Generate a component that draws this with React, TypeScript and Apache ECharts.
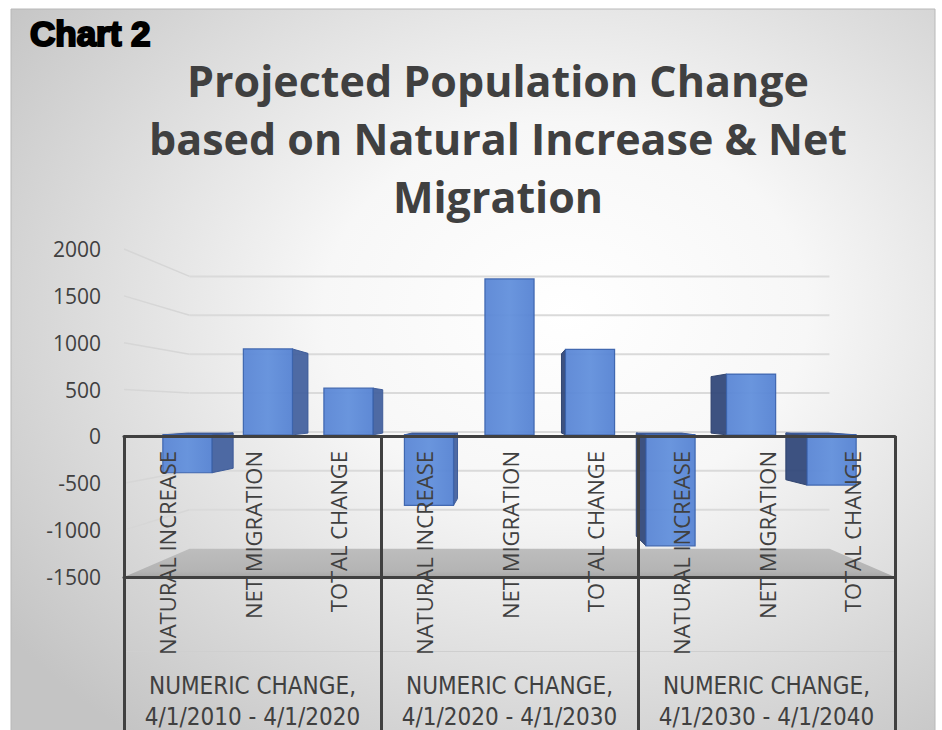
import React, { useEffect, useRef } from "react";
import * as echarts from "echarts";

// ---- data ----
const subCategories = ["NATURAL INCREASE", "NET MIGRATION", "TOTAL CHANGE"];
const groupPrefix = "NUMERIC CHANGE,";
const periods = ["4/1/2010 - 4/1/2020", "4/1/2020 - 4/1/2030", "4/1/2030 - 4/1/2040"];
const naturalIncrease = [-430, -800, -1260];
const netMigration = [975, 1770, 690];
const totalChange = [530, 970, -570];
const yTicks = [-1500, -1000, -500, 0, 500, 1000, 1500, 2000];

const Y_MIN = -1500;
const Y_MAX = 2000;
const Y_STEP = 500;
const HORIZON_VALUE = 280; // eye level of the 3D view (value units)
const WALL_DEPTH = 0.17;
const BAR_FRONT = 0.06;
const BAR_BACK = 0.127;
const BAR_RATIO = 0.61;

const categories: string[] = [];
periods.forEach(() => subCategories.forEach((s) => categories.push(s)));
const barData: number[][] = [];
periods.forEach((_, g) => {
  [naturalIncrease[g], netMigration[g], totalChange[g]].forEach((v, k) => {
    barData.push([g * subCategories.length + k, v]);
  });
});
const groupLabels = periods.map((p) => groupPrefix + "\n" + p);

const TEXT = "#404040";

export default function App() {
  const ref = useRef<HTMLDivElement>(null);
  useEffect(() => {
    if (!ref.current) return;
    const chart = echarts.init(ref.current, undefined, { renderer: "svg" });

    const persp = (params: any, api: any) => {
      const cs = params.coordSys;
      const vx = cs.x + cs.width / 2;
      const vy = api.coord([0, HORIZON_VALUE])[1];
      const P = (x: number, y: number, d: number) => [vx + (x - vx) * (1 - d), vy + (y - vy) * (1 - d)];
      return { cs, vx, vy, P };
    };

    const option: any = {
      animation: false,
      backgroundColor: "#ffffff",
      title: {
        text: "Projected Population Change\nbased on Natural Increase & Net\nMigration",
        left: 493,
        top: 46,
        textAlign: "center",
        textStyle: {
          fontFamily: "Open Sans",
          fontWeight: "bold",
          fontSize: 43,
          lineHeight: 58,
          color: TEXT,
        },
      },
      graphic: [
        {
          type: "rect",
          z: -100,
          silent: true,
          shape: { x: 11, y: 9, width: 924, height: 722 },
          style: {
            fill: {
              type: "radial",
              x: 0.6,
              y: 0.42,
              r: 0.75,
              colorStops: [
                { offset: 0, color: "#ffffff" },
                { offset: 0.35, color: "#f7f7f7" },
                { offset: 1, color: "#c4c4c4" },
              ],
            },
            stroke: "#b8b8b8",
            lineWidth: 1,
          },
        },
        {
          type: "text",
          x: 30,
          y: 16,
          z: 10,
          style: {
            text: "Chart 2",
            fontFamily: "Liberation Sans",
            fontWeight: "bold",
            fontSize: 35,
            fill: "#000000",
            stroke: "#000000",
            lineWidth: 2.2,
          },
        },
      ],
      grid: { left: 124, right: 47, top: 249, bottom: 153, outerBoundsMode: "none", containLabel: false },
      xAxis: [
        {
          // zero line
          type: "category",
          data: categories,
          z: 10,
          axisLine: { onZero: true, lineStyle: { color: TEXT, width: 3 } },
          axisTick: { show: false },
          axisLabel: { show: false },
        },
        {
          // sub-category labels hanging below the zero line
          type: "category",
          data: categories,
          position: "bottom",
          z: 10,
          axisLine: { show: false, onZero: false },
          axisTick: { show: false },
          axisLabel: {
            interval: 0,
            rotate: 90,
            margin: -126,
            fontFamily: "Open Sans",
            fontSize: 22,
            color: TEXT,
            padding: [10, 0, 0, 0],
          },
        },
        {
          type: "category",
          data: periods,
          position: "bottom",
          z: 10,
          axisLine: { onZero: false, lineStyle: { color: TEXT, width: 3 } },
          axisTick: { show: true, inside: true, length: 141, lineStyle: { color: TEXT, width: 3 } },
          axisLabel: { show: false },
        },
        {
          type: "category",
          data: periods,
          position: "bottom",
          offset: 74,
          z: 9,
          axisLine: { onZero: false, lineStyle: { color: "#cfcfcf", width: 1 } },
          axisTick: { show: false },
          axisLabel: { show: false },
        },
        {
          type: "category",
          data: groupLabels,
          position: "bottom",
          z: 10,
          axisLine: { show: false, onZero: false },
          axisTick: { show: true, length: 153, lineStyle: { color: TEXT, width: 3 } },
          axisLabel: {
            interval: 0,
            margin: 93,
            fontFamily: "Liberation Sans Narrow, DejaVu Sans Condensed, Open Sans",
            fontSize: 24,
            lineHeight: 31,
            color: TEXT,
          },
        },
      ],
      yAxis: {
        type: "value",
        min: Y_MIN,
        max: Y_MAX,
        interval: Y_STEP,
        axisLine: { show: false },
        axisTick: { show: false },
        splitLine: { show: false },
        axisLabel: {
          fontFamily: "Open Sans",
          fontSize: 21,
          color: TEXT,
          margin: 23,
          formatter: (v: number) => String(v),
        },
      },
      series: [
        {
          type: "custom",
          name: "walls",
          z: 1,
          silent: true,
          data: yTicks.map((v) => [0, v]),
          encode: { x: 0, y: 1 },
          renderItem: (params: any, api: any) => {
            const { cs, P } = persp(params, api);
            const v = api.value(1);
            const yF = api.coord([0, v])[1];
            const L = cs.x;
            const R = cs.x + cs.width;
            if (v === Y_MIN) {
              return {
                type: "polygon",
                shape: { points: [P(L, yF, 0), P(R, yF, 0), P(R, yF, WALL_DEPTH), P(L, yF, WALL_DEPTH)] },
                style: {
                  fill: {
                    type: "linear",
                    x: 0, y: 0, x2: 0, y2: 1,
                    colorStops: [
                      { offset: 0, color: "#bdbdbd" },
                      { offset: 0.8, color: "#b4b4b4" },
                      { offset: 1, color: "#a6a6a6" },
                    ],
                  },
                },
              };
            }
            const a = P(L, yF, 0);
            const b = P(L, yF, WALL_DEPTH);
            const c = P(R, yF, WALL_DEPTH);
            return {
              type: "group",
              children: [
                { type: "line", shape: { x1: a[0], y1: a[1], x2: b[0], y2: b[1] }, style: { stroke: "#d6d6d6", lineWidth: 1.5 } },
                { type: "line", shape: { x1: b[0], y1: b[1], x2: c[0], y2: c[1] }, style: { stroke: "#dadada", lineWidth: 2 } },
              ],
            };
          },
        },
        {
          type: "custom",
          name: "bars",
          z: 2,
          data: barData,
          encode: { x: 0, y: 1 },
          renderItem: (params: any, api: any) => {
            const { vx, vy, P } = persp(params, api);
            const idx = api.value(0);
            const v = api.value(1);
            const top = api.coord([idx, v]);
            const y0 = api.coord([idx, 0])[1];
            const w = api.size([1, 0])[0] * BAR_RATIO;
            const xl = top[0] - w / 2;
            const xr = top[0] + w / 2;
            const yA = Math.min(top[1], y0);
            const yB = Math.max(top[1], y0);
            const children: any[] = [];
            const edge = "#3b63ad";
            if (xr < vx) {
              children.push({
                type: "polygon",
                shape: { points: [P(xr, yA, BAR_FRONT), P(xr, yA, BAR_BACK), P(xr, yB, BAR_BACK), P(xr, yB, BAR_FRONT)] },
                style: { fill: "#45629f", stroke: "#3a5897", lineWidth: 1, opacity: 0.95 },
              });
            } else if (xl > vx) {
              children.push({
                type: "polygon",
                shape: { points: [P(xl, yA, BAR_FRONT), P(xl, yA, BAR_BACK), P(xl, yB, BAR_BACK), P(xl, yB, BAR_FRONT)] },
                style: { fill: "#33497a", stroke: "#2c406c", lineWidth: 1, opacity: 0.95 },
              });
            }
            if (yA > vy) {
              children.push({
                type: "polygon",
                shape: { points: [P(xl, yA, BAR_FRONT), P(xr, yA, BAR_FRONT), P(xr, yA, BAR_BACK), P(xl, yA, BAR_BACK)] },
                style: { fill: "#3e5c98", stroke: "#3a5897", lineWidth: 1 },
              });
            }
            const f1 = P(xl, yA, BAR_FRONT);
            const f2 = P(xr, yB, BAR_FRONT);
            children.push({
              type: "rect",
              shape: { x: f1[0], y: f1[1], width: f2[0] - f1[0], height: f2[1] - f1[1] },
              style: {
                fill: {
                  type: "linear",
                  x: 0, y: 0, x2: 1, y2: 0,
                  colorStops: [
                    { offset: 0, color: "#5a86d5" },
                    { offset: 0.5, color: "#6290dc" },
                    { offset: 1, color: "#5683d3" },
                  ],
                },
                stroke: edge,
                lineWidth: 1.2,
                opacity: 0.95,
              },
            });
            return { type: "group", children };
          },
        },
      ],
    };
    chart.setOption(option);
    return () => chart.dispose();
  }, []);
  return (
    <div
      ref={ref}
      style={{ position: "fixed", left: 0, top: 0, width: 942, height: 730 }}
    />
  );
}
